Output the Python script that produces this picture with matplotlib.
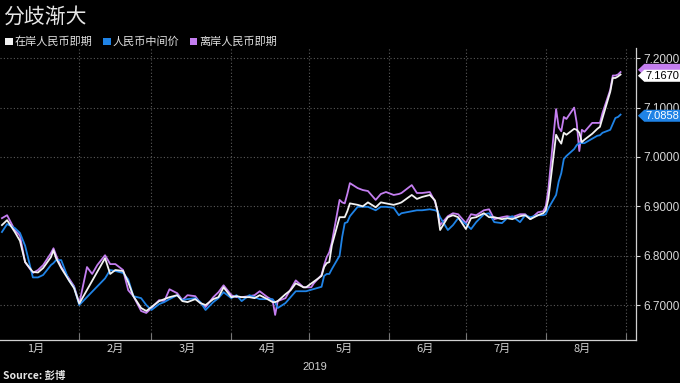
import numpy as np
import pandas as pd
import matplotlib
matplotlib.use('Agg')
import matplotlib.pyplot as plt
import matplotlib.dates as mdates
import matplotlib.ticker as mticker
from matplotlib.patches import Polygon, Rectangle
from matplotlib.transforms import blended_transform_factory

plt.rcParams['font.family'] = ['Noto Sans CJK SC', 'DejaVu Sans']

title = '分歧渐大'
series_names = ['在岸人民币即期', '人民币中间价', '离岸人民币即期']
series_colors = ['#f2f2f2', '#1f83e6', '#c47ef0']

# daily readings (NaN = onshore market closed)
nan = np.nan
days = ['01-02', '01-04', '01-07', '01-09', '01-11', '01-14', '01-16', '01-18', '01-21', '01-22',
        '01-23', '01-25', '01-28', '01-30', '02-01', '02-04', '02-06', '02-08', '02-11', '02-13',
        '02-15', '02-18', '02-20', '02-22', '02-25', '02-27', '03-01', '03-04', '03-06', '03-08',
        '03-11', '03-13', '03-15', '03-18', '03-20', '03-22', '03-25', '03-27', '03-29', '04-01',
        '04-03', '04-05', '04-08', '04-10', '04-12', '04-15', '04-17', '04-18', '04-19', '04-22',
        '04-24', '04-26', '04-29', '04-30', '05-02', '05-03', '05-06', '05-07', '05-08', '05-09',
        '05-10', '05-13', '05-14', '05-15', '05-16', '05-17', '05-20', '05-22', '05-24', '05-27',
        '05-29', '05-31', '06-03', '06-05', '06-06', '06-10', '06-12', '06-14', '06-17', '06-19',
        '06-20', '06-21', '06-24', '06-26', '06-28', '07-01', '07-03', '07-05', '07-08', '07-10',
        '07-12', '07-15', '07-17', '07-19', '07-22', '07-24', '07-26', '07-29', '07-31', '08-01',
        '08-02', '08-05', '08-06', '08-07', '08-08', '08-09', '08-12', '08-13', '08-14', '08-15',
        '08-16', '08-19', '08-21', '08-22', '08-23', '08-26', '08-27', '08-28', '08-29', '08-30']

onshore = [6.862, 6.872, 6.848, 6.830, 6.787, 6.767, 6.766, 6.775, 6.797, 6.811,
           6.795, 6.775, 6.750, 6.734, 6.703, nan, nan, nan, 6.795, 6.763,
           6.771, 6.769, 6.746, 6.718, 6.694, 6.688, 6.696, 6.708, 6.712, 6.716,
           6.720, 6.708, 6.706, 6.712, 6.704, 6.700, 6.712, 6.716, 6.736, 6.716,
           6.718, 6.716, 6.716, 6.714, 6.720, 6.712, 6.706, 6.706, 6.708, 6.722,
           6.730, 6.744, 6.736, 6.736, nan, nan, 6.759, 6.777, 6.785, 6.787,
           6.821, 6.878, 6.878, 6.878, 6.890, 6.906, 6.903, 6.900, 6.908, 6.898,
           6.908, 6.906, 6.903, 6.906, 6.908, 6.923, 6.915, 6.919, 6.923, 6.912,
           6.890, 6.852, 6.878, 6.882, 6.878, 6.854, 6.876, 6.878, 6.886, 6.878,
           6.878, 6.874, 6.876, 6.874, 6.880, 6.882, 6.874, 6.882, 6.886, 6.892,
           6.915, 7.045, 7.035, 7.027, 7.049, 7.045, 7.057, 7.055, 7.049, 7.030,
           7.035, 7.047, 7.057, 7.061, 7.079, 7.132, 7.160, 7.160, 7.163, 7.167]

fixing = [6.848, 6.864, 6.856, 6.846, 6.820, 6.756, 6.756, 6.761, 6.781, 6.785,
          6.791, 6.791, 6.750, 6.736, 6.700, nan, nan, nan, 6.754, 6.771,
          6.769, 6.765, 6.752, 6.718, 6.714, 6.700, 6.690, 6.702, 6.706, 6.712,
          6.720, 6.710, 6.712, 6.714, 6.706, 6.690, 6.706, 6.714, 6.726, 6.714,
          6.720, 6.708, 6.720, 6.716, 6.712, 6.712, 6.712, 6.705, 6.694, 6.704,
          6.716, 6.728, 6.728, 6.728, nan, nan, 6.737, 6.759, 6.763, 6.763,
          6.773, 6.800, 6.838, 6.866, 6.868, 6.880, 6.899, 6.899, 6.899, 6.892,
          6.899, 6.899, 6.897, 6.882, 6.886, 6.890, 6.892, 6.892, 6.894, 6.892,
          6.890, 6.878, 6.852, 6.862, 6.876, 6.864, 6.854, 6.868, 6.884, 6.886,
          6.868, 6.866, 6.876, 6.880, 6.868, 6.882, 6.878, 6.882, 6.882, 6.884,
          6.896, 6.923, 6.950, 6.967, 6.996, 7.002, 7.016, 7.024, 7.028, 7.028,
          7.028, 7.037, 7.043, 7.044, 7.049, 7.055, 7.067, 7.079, 7.081, 7.0858]

offshore = [6.876, 6.882, 6.852, 6.840, 6.787, 6.765, 6.771, 6.781, 6.805, 6.815,
            6.801, 6.777, 6.754, 6.738, 6.703, 6.777, 6.763, 6.781, 6.801, 6.783,
            6.783, 6.771, 6.730, 6.718, 6.688, 6.684, 6.694, 6.710, 6.708, 6.732,
            6.724, 6.710, 6.720, 6.718, 6.704, 6.696, 6.716, 6.726, 6.740, 6.720,
            6.716, 6.716, 6.718, 6.720, 6.728, 6.716, 6.710, 6.680, 6.708, 6.714,
            6.732, 6.750, 6.736, 6.736, 6.736, 6.744, 6.761, 6.781, 6.797, 6.807,
            6.827, 6.913, 6.908, 6.906, 6.925, 6.947, 6.937, 6.933, 6.931, 6.913,
            6.925, 6.929, 6.923, 6.925, 6.927, 6.943, 6.927, 6.927, 6.929, 6.910,
            6.890, 6.862, 6.880, 6.886, 6.884, 6.866, 6.884, 6.882, 6.892, 6.894,
            6.874, 6.878, 6.880, 6.878, 6.884, 6.884, 6.874, 6.888, 6.890, 6.900,
            6.935, 7.097, 7.060, 7.052, 7.081, 7.077, 7.100, 7.069, 7.012, 7.055,
            7.051, 7.069, 7.069, 7.069, 7.089, 7.136, 7.165, 7.165, 7.167, 7.172]

end_labels = ['7.1670', '7.0858']
yticks = [6.7, 6.8, 6.9, 7.0, 7.1, 7.2]

dates = pd.to_datetime(['2019-' + d for d in days])

fig = plt.figure(figsize=(6.8, 3.83), dpi=100, facecolor='black')
ax = fig.add_axes([0.0, 0.112, 0.9353, 0.763], facecolor='black')

grid_col = '#5a5a5a'
for order in [2, 1, 0]:
    vals = np.array([onshore, fixing, offshore][order], dtype=float)
    ok = ~np.isnan(vals)
    ax.plot(dates[ok], vals[ok], color=series_colors[order], lw=1.3, zorder=3 + (order == 0))

ax.set_xlim(pd.Timestamp('2019-01-01 06:00'), pd.Timestamp('2019-09-05'))
ax.set_ylim(6.629, 7.221)

for s in ['left', 'top']:
    ax.spines[s].set_visible(False)
for s in ['bottom', 'right']:
    ax.spines[s].set_color('#d0d0d0')
    ax.spines[s].set_linewidth(0.9)

ax.yaxis.tick_right()
ax.set_yticks(yticks)
ax.yaxis.set_major_formatter(mticker.FormatStrFormatter('%.4f'))
ax.tick_params(axis='y', colors='#d8d8d8', length=3, pad=2, labelsize=8.5)
for lab in ax.get_yticklabels():
    lab.set_family('Liberation Sans')

ax.xaxis.set_major_locator(mdates.MonthLocator())
ax.xaxis.set_major_formatter(mticker.NullFormatter())
ax.xaxis.set_minor_locator(mdates.MonthLocator(bymonthday=15))
ax.xaxis.set_minor_formatter(mticker.FuncFormatter(lambda v, p: f'{mdates.num2date(v).month}月'))
ax.tick_params(axis='x', which='major', direction='in', length=5, color='#777777')
ax.tick_params(axis='x', which='minor', length=0, pad=3, labelsize=8, labelcolor='#d0d0d0')

ax.grid(True, which='major', color=grid_col, linestyle=(0, (1, 2)), linewidth=0.8)

# value tags at the right edge; the offshore tag sits mostly behind the onshore one
tr = blended_transform_factory(ax.transAxes, ax.transData)
h = 0.0122
tags = [(7.1765, series_colors[2], None, None, 5),
        (7.1645, '#ffffff', end_labels[0], 'black', 6),
        (7.0835, series_colors[1], end_labels[1], 'white', 6)]
for v, fc, txt, tc, z in tags:
    poly = Polygon([(1.003, v), (1.013, v + h), (1.075, v + h), (1.075, v - h), (1.013, v - h)],
                   closed=True, transform=tr, facecolor=fc, edgecolor='none', clip_on=False, zorder=z)
    ax.add_patch(poly)
    if txt:
        ax.text(1.041, v, txt, transform=tr, ha='center', va='center', color=tc, fontsize=8,
                family='Liberation Sans', clip_on=False, zorder=z + 0.5)

fig.text(0.004, 0.985, title, color='#e6e6e6', fontsize=15, va='top', ha='left')

leg_x = [0.008, 0.152, 0.279]
for x0, name, col in zip(leg_x, series_names, series_colors):
    fig.add_artist(Rectangle((x0, 0.883), 0.0105, 0.0185, transform=fig.transFigure,
                             facecolor=col, edgecolor='none'))
    fig.text(x0 + 0.0135, 0.892, name, color='#e0e0e0', fontsize=8, va='center', ha='left')

fig.text(0.463, 0.042, '2019', color='#d0d0d0', fontsize=8, ha='center', va='center',
         family=['Liberation Sans', 'DejaVu Sans'])
fig.text(0.004, 0.018, 'Source: 彭博', color='#e6e6e6', fontsize=7.5, fontweight='bold',
         ha='left', va='center')

fig.savefig('out.png', dpi=100, facecolor='black')
